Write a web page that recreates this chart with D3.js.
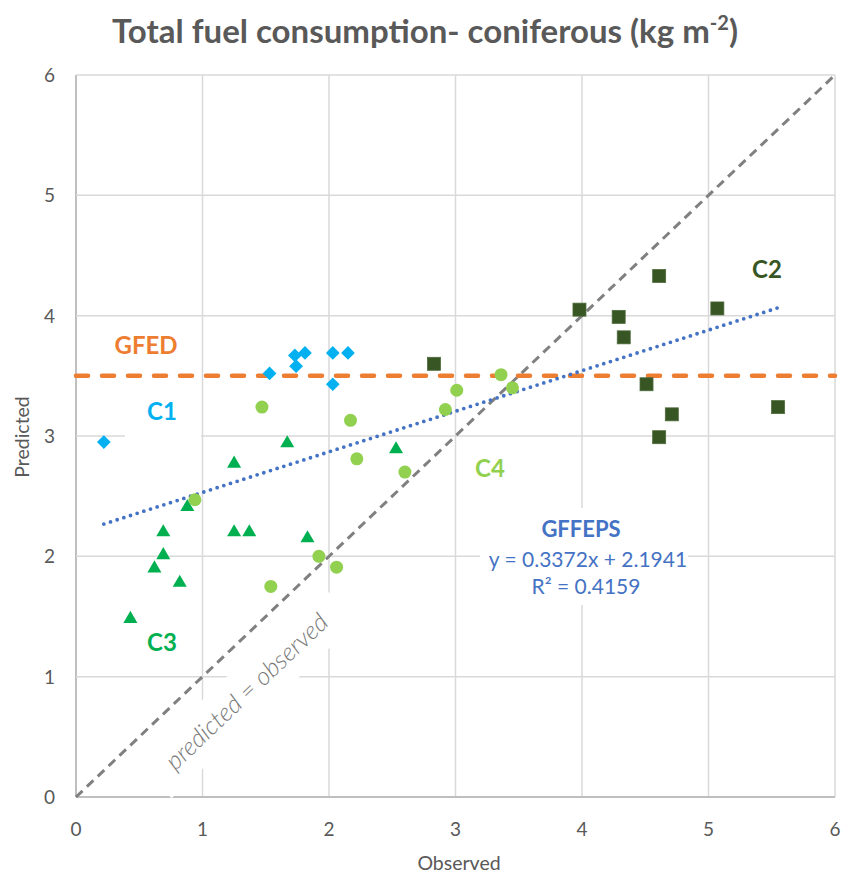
<!DOCTYPE html>
<meta charset="utf-8">
<body>
<svg id="chart"></svg>
</body>
<script src="https://d3js.org/d3.v7.min.js"></script>
<script>

// observed / predicted pairs, one array per group
var c1 = [[0.22,2.95],[1.53,3.52],[1.73,3.67],[1.74,3.58],[1.81,3.69],[2.03,3.69],[2.15,3.69],[2.03,3.43]];
var c2 = [[2.83,3.60],[3.98,4.05],[4.61,4.33],[4.29,3.99],[4.33,3.82],[5.07,4.06],[4.51,3.43],[4.71,3.18],[4.61,2.99],[5.55,3.24]];
var c3 = [[1.67,2.94],[1.25,2.77],[0.88,2.41],[0.69,2.20],[1.25,2.20],[1.37,2.20],[1.83,2.15],[0.69,2.01],[0.62,1.90],[0.82,1.78],[0.43,1.48],[2.53,2.89]];
var c4 = [[1.47,3.24],[2.17,3.13],[2.22,2.81],[0.94,2.47],[1.92,2.00],[2.06,1.91],[1.54,1.75],[3.01,3.38],[2.92,3.22],[3.36,3.51],[3.45,3.40],[2.60,2.70]];

var ticks = [0,1,2,3,4,5,6];
var gfed = 3.5;
var slope = 0.3372, intercept = 2.1941, fitRange = [0.22, 5.55];

var width = 843, height = 876;
var font = "Lato, 'Open Sans', sans-serif";
var grey = "#595959";

var svg = d3.select("#chart")
	.attr("width", width)
	.attr("height", height)
	.style("font-family", font);

var x = d3.scaleLinear().domain([0,6]).range([76,835]);
var y = d3.scaleLinear().domain([0,6]).range([797,75]);

// gridlines
var grid = svg.append("g").attr("class","grid");
grid.selectAll("line.v").data(ticks).enter().append("line")
	.attr("x1", d=>x(d)).attr("x2", d=>x(d))
	.attr("y1", y(0)).attr("y2", y(6))
	.attr("stroke", d=> d==0 ? "#bfbfbf" : "#d9d9d9")
	.attr("stroke-width", d=> d==0 ? 2 : 1.5);
grid.selectAll("line.h").data(ticks).enter().append("line")
	.attr("y1", d=>y(d)).attr("y2", d=>y(d))
	.attr("x1", x(0)).attr("x2", x(6))
	.attr("stroke", d=> d==0 ? "#bfbfbf" : "#d9d9d9")
	.attr("stroke-width", d=> d==0 ? 2 : 1.5);

// tick labels
svg.append("g").selectAll("text").data(ticks).enter().append("text")
	.attr("x", d=>x(d)).attr("y", 836)
	.attr("text-anchor","middle")
	.attr("font-size", 19).attr("fill", grey)
	.text(d=>d);
svg.append("g").selectAll("text").data(ticks).enter().append("text")
	.attr("x", 55).attr("y", d=>y(d)+7)
	.attr("text-anchor","end")
	.attr("font-size", 19).attr("fill", grey)
	.text(d=>d);

svg.append("text")
	.attr("x", 459).attr("y", 870)
	.attr("text-anchor","middle").attr("font-size", 19.5).attr("fill", grey)
	.text("Observed");
svg.append("text")
	.attr("transform","translate(29,437) rotate(-90)")
	.attr("text-anchor","middle").attr("font-size", 19.5).attr("fill", grey)
	.text("Predicted");

// title
var title = svg.append("text")
	.attr("x", 425).attr("y", 43)
	.attr("text-anchor","middle")
	.attr("font-size", 33).attr("font-weight","bold").attr("fill", grey);
title.append("tspan").text("Total fuel consumption- coniferous (kg m");
title.append("tspan").attr("font-size", 20).attr("dy", -13).text("-2");
title.append("tspan").attr("dy", 13).text(")");

// reference lines
svg.append("line")
	.attr("x1", x(0)).attr("y1", y(0)).attr("x2", x(6)).attr("y2", y(6))
	.attr("stroke", "#808080").attr("stroke-width", 3)
	.attr("stroke-dasharray", "9,6");

svg.append("line")
	.attr("x1", x(0)).attr("x2", x(6)).attr("y1", y(gfed)).attr("y2", y(gfed))
	.attr("stroke", "#ED7D31").attr("stroke-width", 4.5)
	.attr("stroke-linecap","round")
	.attr("stroke-dasharray", "12,14");

svg.append("line")
	.attr("x1", x(fitRange[0])).attr("y1", y(slope*fitRange[0]+intercept))
	.attr("x2", x(fitRange[1])).attr("y2", y(slope*fitRange[1]+intercept))
	.attr("stroke", "#4472C4").attr("stroke-width", 3.8)
	.attr("stroke-linecap","round")
	.attr("stroke-dasharray", "0,7");

// markers
var pts = svg.append("g");
pts.selectAll("path.c1").data(c1).enter().append("path")
	.attr("transform", d=>"translate("+x(d[0])+","+y(d[1])+")")
	.attr("d", d3.symbol().type(d3.symbolDiamond2).size(120)())
	.attr("fill", "#00B0F0");
pts.selectAll("path.c3").data(c3).enter().append("path")
	.attr("transform", d=>"translate("+x(d[0])+","+y(d[1])+")")
	.attr("d", d3.symbol().type(d3.symbolTriangle).size(85)())
	.attr("fill", "#00B050");
pts.selectAll("circle.c4").data(c4).enter().append("circle")
	.attr("cx", d=>x(d[0])).attr("cy", d=>y(d[1])).attr("r", 6.5)
	.attr("fill", "#92D050");
pts.selectAll("rect.c2").data(c2).enter().append("rect")
	.attr("x", d=>x(d[0])-6.5).attr("y", d=>y(d[1])-6.5)
	.attr("width", 13).attr("height", 13)
	.attr("fill", "#375623").attr("stroke","#4e6b3b").attr("stroke-width",0.8);

// labels
svg.append("rect").attr("x",125).attr("y",398).attr("width",76).attr("height",46).attr("fill","#fff");
var labels = svg.append("g").attr("font-weight","bold").attr("font-size", 24).attr("text-anchor","middle");
labels.append("text").attr("x", 146).attr("y", 354).attr("fill","#ED7D31").text("GFED");
labels.append("text").attr("x", 162).attr("y", 420).attr("fill","#00B0F0").text("C1");
labels.append("text").attr("x", 767).attr("y", 278).attr("fill","#375623").text("C2");
labels.append("text").attr("x", 162).attr("y", 651).attr("fill","#00B050").text("C3");
labels.append("text").attr("x", 490).attr("y", 477).attr("fill","#92D050").text("C4");

svg.append("rect").attr("x",480).attr("y",508).attr("width",208).attr("height",97).attr("fill","#fff");
var fit = svg.append("g").attr("text-anchor","middle").attr("fill","#4472C4");
fit.append("text").attr("x", 581).attr("y", 537).attr("font-size",22).attr("font-weight","bold").text("GFFEPS");
fit.append("text").attr("x", 588).attr("y", 567).attr("font-size",21).text("y = 0.3372x + 2.1941");
fit.append("text").attr("x", 586).attr("y", 594).attr("font-size",21).text("R² = 0.4159");

var ang = -Math.atan((y(0)-y(1))/(x(1)-x(0)))*180/Math.PI;
var po = svg.append("g").attr("transform","translate(247,692) rotate("+ang+")");
po.append("rect").attr("x",-128).attr("y",-25).attr("width",256).attr("height",50).attr("fill","#fff");
po.append("text").attr("y",8).attr("text-anchor","middle")
	.attr("font-size",25).attr("font-style","italic").attr("font-weight",300).attr("fill","#7a7a7a")
	.text("predicted = observed");

</script>
<style>
	body { margin: 0; background: #fff; }
	svg { display: block; }
</style>
</html>
